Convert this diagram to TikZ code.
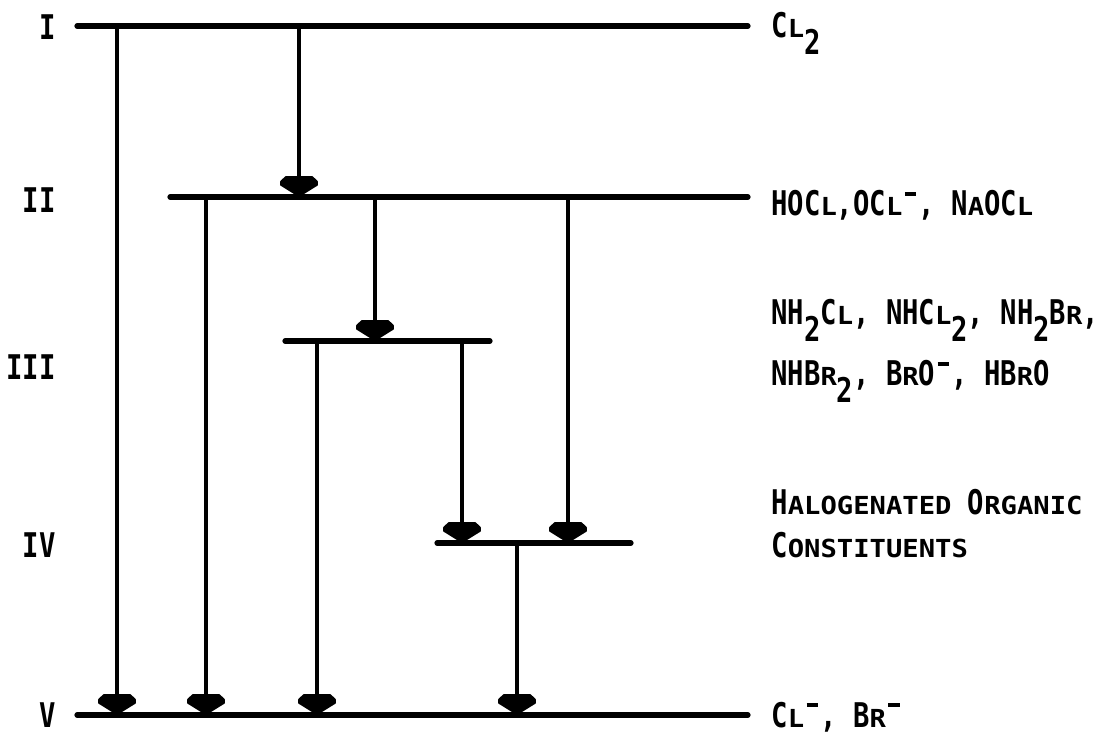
\documentclass[tikz,border=0pt]{standalone}
\usepackage{fontspec}
\usepackage{graphicx}
\newfontfamily\lerofont[FakeStretch=0.8]{DejaVu Sans Mono}
\usetikzlibrary{arrows.meta}
% small capitals: same width, lower height
\newcommand{\smcap}[1]{\scalebox{1}[0.73]{#1}}
\newcommand{\subdn}[1]{\raisebox{-0.5em}{#1}}
\newcommand{\ionmin}{\makebox[0.48em]{\rule[0.6em]{0.34em}{0.12em}}}
% flat-backed arrow head
\pgfdeclarearrow{
  name=Shield,
  setup code={
    \pgfarrowssettipend{0pt}
    \pgfarrowssetlineend{-5pt}
    \pgfarrowssetbackend{-10pt}
    \pgfarrowssetvisualbackend{-10pt}
  },
  drawing code={
    \pgfsetlinewidth{0.8pt}
    \pgfsetroundjoin
    \pgfpathmoveto{\pgfpoint{-0.4pt}{0pt}}
    \pgfpathlineto{\pgfpoint{-6pt}{9pt}}
    \pgfpathlineto{\pgfpoint{-7.8pt}{9pt}}
    \pgfpathlineto{\pgfpoint{-10pt}{6.6pt}}
    \pgfpathlineto{\pgfpoint{-10pt}{-6.6pt}}
    \pgfpathlineto{\pgfpoint{-7.8pt}{-9pt}}
    \pgfpathlineto{\pgfpoint{-6pt}{-9pt}}
    \pgfpathclose
    \pgfusepathqfillstroke
  }
}
\begin{document}
\begin{tikzpicture}[x=0.5pt,y=-0.5pt,
    level/.style={line width=2.6pt,line cap=round},
    flow/.style={line width=2pt,-Shield},
    txt/.style={font=\lerofont\bfseries\fontsize{17}{21.5}\selectfont,inner sep=0pt,anchor=base west},
    num/.style={font=\lerofont\bfseries\fontsize{17}{21.5}\selectfont,inner sep=0pt,anchor=base east}]
\useasboundingbox (0,0) rectangle (1114,737);
% levels
\draw[level] (77,26) coordinate (Iw) -- (748,26) coordinate (Ie);
\draw[level] (170,197) coordinate (IIw) -- (748,197) coordinate (IIe);
\draw[level] (285,341) coordinate (IIIw) -- (490,341) coordinate (IIIe);
\draw[level] (437,543) coordinate (IVw) -- (631,543) coordinate (IVe);
\draw[level] (77,715) coordinate (Vw) -- (748,715) coordinate (Ve);
% numerals
\node[num] (nI) at (56,40) {I};
\node[num] (nII) at (56,213) {II};
\node[num] (nIII) at (56,380) {III};
\node[num] (nIV) at (56,558) {IV};
\node[num] (nV) at (56,727) {V};
% species
\node[txt] (tI) at (771,38) {C\smcap{L}\subdn{2}};
\node[txt] (tII) at (771,216) {HOC\smcap{L},OC\smcap{L}\ionmin, N\smcap{A}OC\smcap{L}};
\node[txt] (tIIIa) at (771,325) {NH\subdn{2}C\smcap{L}, NHC\smcap{L}\subdn{2}, NH\subdn{2}B\smcap{R},};
\node[txt] (tIIIb) at (771,386) {NHB\smcap{R}\subdn{2}, B\smcap{R}O\ionmin, HB\smcap{R}O};
\node[txt] (tIVa) at (771,515) {H\smcap{ALOGENATED} O\smcap{RGANIC}};
\node[txt] (tIVb) at (771,558) {C\smcap{ONSTITUENTS}};
\node[txt] (tV) at (771,727) {C\smcap{L}\ionmin, B\smcap{R}\ionmin};
% reactions
\draw[flow] (117,0 |- Iw) -- (117,0 |- Vw);
\draw[flow] (299,0 |- Iw) -- (299,0 |- IIw);
\draw[flow] (206,0 |- IIw) -- (206,0 |- Vw);
\draw[flow] (375,0 |- IIw) -- (375,0 |- IIIw);
\draw[flow] (568,0 |- IIw) -- (568,0 |- IVw);
\draw[flow] (317,0 |- IIIw) -- (317,0 |- Vw);
\draw[flow] (462,0 |- IIIw) -- (462,0 |- IVw);
\draw[flow] (517,0 |- IVw) -- (517,0 |- Vw);
\end{tikzpicture}
\end{document}
